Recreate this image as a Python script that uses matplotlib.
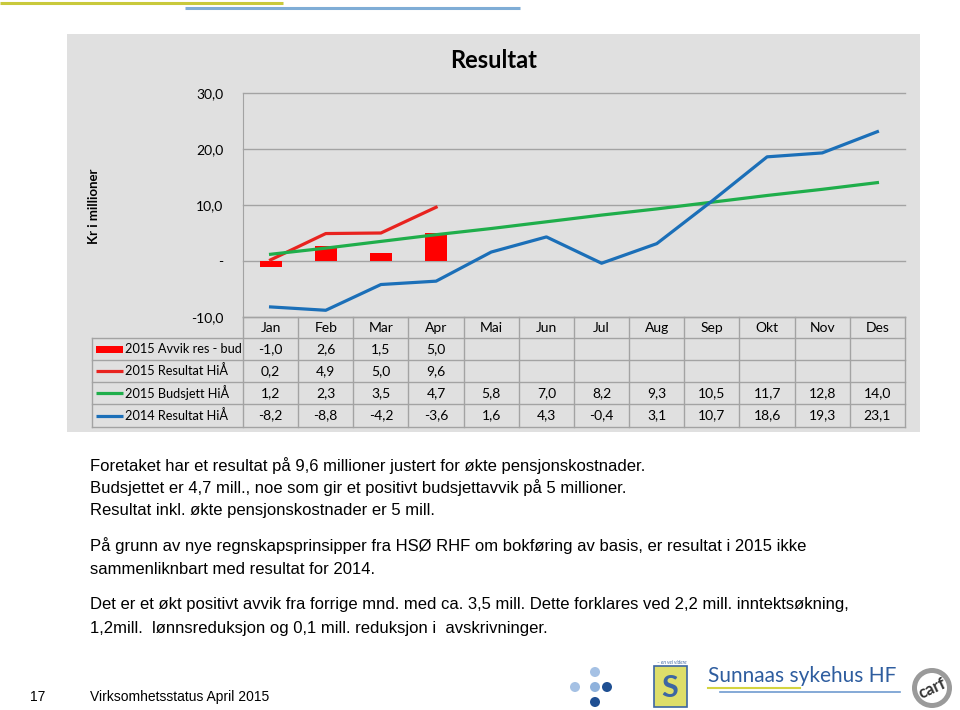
import matplotlib
matplotlib.use("Agg")
import matplotlib.pyplot as plt
from matplotlib.patches import Rectangle, Circle, Wedge
from matplotlib.transforms import blended_transform_factory
import numpy as np

months = ["Jan", "Feb", "Mar", "Apr", "Mai", "Jun", "Jul", "Aug", "Sep", "Okt", "Nov", "Des"]
avvik_2015 = [-1.0, 2.6, 1.5, 5.0]
resultat_2015 = [0.2, 4.9, 5.0, 9.6]
budsjett_2015 = [1.2, 2.3, 3.5, 4.7, 5.8, 7.0, 8.2, 9.3, 10.5, 11.7, 12.8, 14.0]
resultat_2014 = [-8.2, -8.8, -4.2, -3.6, 1.6, 4.3, -0.4, 3.1, 10.7, 18.6, 19.3, 23.1]
series_names = ["2015 Avvik res - bud", "2015 Resultat HiÅ", "2015 Budsjett HiÅ", "2014 Resultat HiÅ"]
y_ticks = [-10, 0, 10, 20, 30]
y_tick_labels = ["-10,0", "-", "10,0", "20,0", "30,0"]

body_lines = [
    "Foretaket har et resultat på 9,6 millioner justert for økte pensjonskostnader.",
    "Budsjettet er 4,7 mill., noe som gir et positivt budsjettavvik på 5 millioner.",
    "Resultat inkl. økte pensjonskostnader er 5 mill.",
    "På grunn av nye regnskapsprinsipper fra HSØ RHF om bokføring av basis, er resultat i 2015 ikke",
    "sammenliknbart med resultat for 2014.",
    "Det er et økt positivt avvik fra forrige mnd. med ca. 3,5 mill. Dette forklares ved 2,2 mill. inntektsøkning,",
    "1,2mill.  lønnsreduksjon og 0,1 mill. reduksjon i  avskrivninger.",
]
body_y = [466, 488, 510, 546, 569, 604, 628]

RED_BAR = "#ff0000"
RED = "#e8231f"
GREEN = "#1fae4b"
BLUE = "#1b6fb8"
GRID = "#a3a3a3"

plt.rcParams["font.family"] = ["Lato", "DejaVu Sans"]

W, H = 960, 710
fig = plt.figure(figsize=(W / 100, H / 100), dpi=100)

# background layer in pixel coordinates
bg = fig.add_axes([0, 0, 1, 1], zorder=0)
bg.set_xlim(0, W)
bg.set_ylim(H, 0)
bg.axis("off")

bg.plot([0, 283], [2.5, 2.5], color="#c9c93c", lw=2.2, solid_capstyle="butt")
bg.plot([185, 520], [8, 8], color="#7fadd6", lw=2.2, solid_capstyle="butt")
bg.add_patch(Rectangle((67, 34), 853, 398, facecolor="#e0e0e0", edgecolor="none"))

bg.text(494, 61, "Resultat", ha="center", va="center", fontsize=17, fontweight="bold", color="black")
bg.text(94, 206, "Kr i millioner", ha="center", va="center", rotation=90, fontsize=9.5,
        fontweight="bold", color="black")

# chart
ax_l, ax_r, ax_t, ax_b = 243, 905, 93, 317
ax = fig.add_axes([ax_l / W, 1 - ax_b / H, (ax_r - ax_l) / W, (ax_b - ax_t) / H], zorder=1)
ax.set_facecolor("none")
ax.set_xlim(-0.5, 11.5)
ax.set_ylim(-10, 30)
for s in ["top", "right", "bottom"]:
    ax.spines[s].set_visible(False)
ax.spines["left"].set_color(GRID)
ax.set_xticks([])
ax.set_yticks(y_ticks)
ax.set_yticklabels(y_tick_labels)
ax.tick_params(axis="y", length=0, pad=14, labelsize=10)
for t in y_ticks:
    ax.axhline(t, color=GRID, lw=1, zorder=1, clip_on=False)

x_all = np.arange(len(months))
ax.bar(x_all[:len(avvik_2015)], avvik_2015, width=0.4, color=RED_BAR, zorder=2)
ax.plot(x_all[:len(resultat_2015)], resultat_2015, color=RED, lw=2.3, zorder=3)
ax.plot(x_all, budsjett_2015, color=GREEN, lw=2.3, zorder=3)
ax.plot(x_all, resultat_2014, color=BLUE, lw=2.3, zorder=3)

# data table below chart
trans = blended_transform_factory(ax.transData, bg.transData)
row_edges = [317, 338, 360, 382, 404, 427]
tab_l = 92
for i, y in enumerate(row_edges):
    x0 = ax_l if i == 0 else tab_l
    bg.plot([x0, ax_r], [y, y], color=GRID, lw=1)
bg.plot([tab_l, tab_l], [row_edges[1], row_edges[-1]], color=GRID, lw=1)
for k in range(len(months) + 1):
    bg.plot([k - 0.5, k - 0.5], [row_edges[0], row_edges[-1]], color=GRID, lw=1, transform=trans)

row_c = [(row_edges[i] + row_edges[i + 1]) / 2 for i in range(len(row_edges) - 1)]
for k, m in enumerate(months):
    bg.text(k, row_c[0], m, ha="center", va="center", fontsize=10, transform=trans)

table_series = [avvik_2015, resultat_2015, budsjett_2015, resultat_2014]
for r, vals in enumerate(table_series):
    for k, v in enumerate(vals):
        bg.text(k, row_c[r + 1], f"{v:.1f}".replace(".", ","), ha="center", va="center",
                fontsize=10, transform=trans)

mk_colors = [RED_BAR, RED, GREEN, BLUE]
for r, name in enumerate(series_names):
    yc = row_c[r + 1]
    if r == 0:
        bg.add_patch(Rectangle((96, yc - 3.5), 27, 7, facecolor=mk_colors[r], edgecolor="none"))
    else:
        bg.plot([96, 123], [yc, yc], color=mk_colors[r], lw=2.3, solid_capstyle="butt")
    bg.text(125, yc, name, ha="left", va="center", fontsize=9.2)

# body text
for txt, y in zip(body_lines, body_y):
    bg.text(90, y, txt, ha="left", va="center", fontsize=12, family=["Liberation Sans", "DejaVu Sans"])

# footer
narrow = ["Liberation Sans Narrow", "Liberation Sans", "DejaVu Sans"]
bg.text(38, 697, "17", ha="center", va="center", fontsize=10, family=narrow)
bg.text(90, 697, "Virksomhetsstatus April 2015", ha="left", va="center", fontsize=10, family=narrow)

# logos
light, mid, dark = "#a5c1e4", "#8fb2dc", "#1f4f92"
for (cx, cy, c) in [(595, 672, light), (575, 687, light), (595, 687, mid), (607, 687, dark), (595, 702, dark)]:
    bg.add_patch(Circle((cx, cy), 5, facecolor=c, edgecolor="none"))

bg.add_patch(Rectangle((654, 666), 33, 41, facecolor="#dede6a", edgecolor="#3d66a3", lw=1.2))
bg.text(670, 688, "S", ha="center", va="center", fontsize=22, color="#3d66a3", fontweight="bold")
bg.text(657, 662, "– en vei videre", ha="left", va="center", fontsize=3.5, style="italic", color="#3d66a3")
bg.text(708, 676, "Sunnaas sykehus HF", ha="left", va="center", fontsize=15, color="#2e5d9f")
bg.plot([708, 800], [688, 688], color="#d4d440", lw=1.5)
bg.plot([720, 900], [692, 692], color="#6f9bcf", lw=1.2)

bg.add_patch(Wedge((932, 688), 20, 0, 360, width=5, facecolor="#9a9a9a", edgecolor="none"))
bg.text(932, 688, "carf", ha="center", va="center", fontsize=12, rotation=25, color="#333333",
        fontweight="bold")

fig.savefig("out.png", dpi=100)
